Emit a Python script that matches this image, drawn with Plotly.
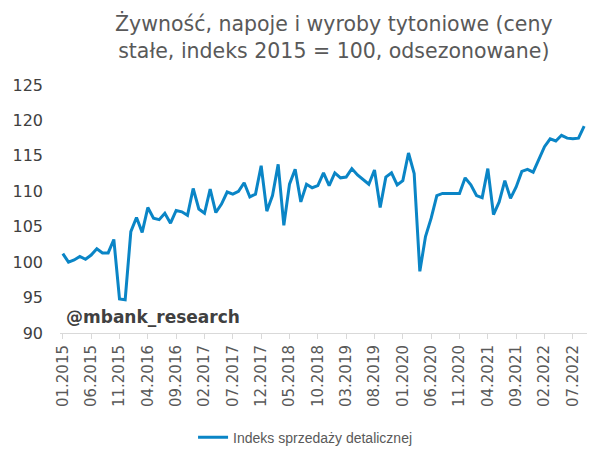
import pandas as pd
import plotly.graph_objects as go

# Indeks sprzedaży detalicznej, 01.2015 - 09.2022 (miesięcznie)
values_2015 = [101.2, 100.0, 100.3, 100.8, 100.4, 101.0, 101.9, 101.3, 101.3, 103.2, 94.8, 94.7]
values_2016 = [104.3, 106.3, 104.2, 107.7, 106.2, 106.0, 106.9, 105.5, 107.3, 107.1, 106.6, 110.4]
values_2017 = [107.5, 106.9, 110.3, 107.0, 108.2, 109.9, 109.6, 110.0, 111.2, 109.2, 109.6, 113.6]
values_2018 = [107.2, 109.4, 113.8, 105.2, 111.0, 113.1, 108.5, 111.0, 110.5, 110.8, 112.6, 110.8]
values_2019 = [112.6, 111.9, 112.0, 113.2, 112.3, 111.6, 111.0, 113.0, 107.7, 112.0, 112.6, 110.9]
values_2020 = [111.5, 115.4, 112.5, 98.7, 103.6, 106.2, 109.4, 109.7, 109.7, 109.8, 109.7, 111.9]
values_2021 = [110.9, 109.4, 109.1, 113.2, 106.7, 108.5, 111.5, 109.0, 110.6, 112.8, 113.1, 112.7]
values_2022 = [114.5, 116.3, 117.4, 117.1, 117.9, 117.5, 117.4, 117.5, 119.2]

values = (values_2015 + values_2016 + values_2017 + values_2018
          + values_2019 + values_2020 + values_2021 + values_2022)
months = list(pd.date_range("2015-01-01", periods=len(values), freq="MS").strftime("%m.%Y"))
tick_labels = months[::5]

y_ticks = [90, 95, 100, 105, 110, 115, 120, 125]

title_lines = ["Żywność, napoje i wyroby tytoniowe (ceny",
               "stałe, indeks 2015 = 100, odsezonowane)"]

LINE = "#0a85c6"
TEXT = "#404040"
GRAY = "#595959"
AXIS = "#d9d9d9"

fig = go.Figure(go.Scatter(
    x=months,
    y=values,
    mode="lines",
    name="Indeks sprzedaży detalicznej",
    line=dict(color=LINE, width=3),
))

# strona ma 8px marginesu body -> figura 598x460
fig.update_layout(
    width=598, height=460,
    paper_bgcolor="white", plot_bgcolor="white",
    margin=dict(l=52, r=19, t=77, b=135, autoexpand=False),
    font=dict(family="DejaVu Sans, Verdana, sans-serif", color=TEXT),
    showlegend=True,
    legend=dict(
        orientation="h", x=0.465, xanchor="center", y=-0.357, yanchor="top",
        font=dict(family="Liberation Sans Narrow, Liberation Sans, sans-serif", size=14, color=GRAY),
        itemwidth=30,
    ),
)

# tytuł jako adnotacja (dwie wyśrodkowane linie)
fig.add_annotation(
    text="<br>".join(title_lines),
    xref="paper", yref="paper", x=0.52, y=1.0, yshift=76,
    xanchor="center", yanchor="top", showarrow=False,
    font=dict(size=20.5, color=GRAY),
)

fig.update_xaxes(
    type="category",
    range=[-0.5, len(values) - 0.5],
    tickvals=tick_labels,
    ticktext=tick_labels,
    tickangle=-90,
    tickfont=dict(size=15, color=GRAY),
    showgrid=False,
    showline=True, linecolor=AXIS, linewidth=1,
    ticks="outside", ticklen=5, tickcolor=AXIS,
    zeroline=False, automargin=False,
)

fig.update_yaxes(
    range=[90, 125],
    tickvals=y_ticks,
    tickfont=dict(size=16, color=TEXT),
    showgrid=False, showline=False, zeroline=False,
    ticks="", ticklabelstandoff=16, automargin=False,
)

fig.add_annotation(
    text="<b>@mbank_research</b>",
    xref="paper", yref="paper", x=0.008, y=0.015,
    xanchor="left", yanchor="bottom", showarrow=False,
    font=dict(size=17, color=TEXT),
)

fig.write_html("out.html")
